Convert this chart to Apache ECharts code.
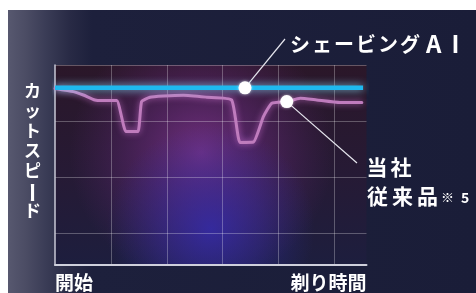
<!DOCTYPE html>
<html><head><meta charset="utf-8">
<script src="https://cdn.jsdelivr.net/npm/echarts@6/dist/echarts.min.js"></script>
<style>
html,body{margin:0;padding:0;background:#fff;}
#c{width:476px;height:293px;
background:
 linear-gradient(#fff,#fff) top left/100% 10px no-repeat,
 linear-gradient(to right,#fff 0,#fff 8px,#57586f 8px,#4b4c64 26px,#3a3c56 46px,#282a45 70px,#1d203c 92px,#1a1d38 100%);}
</style></head><body><div id="c"></div>
<script>
// time axis (0 = 開始, 100 = end of plot)
const timeX = [0, 5.9, 9.1, 12.8, 15.0, 19.8, 22.8, 26.6, 27.8, 30.5, 34.8, 41.2, 48.7, 56.7, 59.4, 63.7, 66.9, 69.6, 74.4, 78.7, 84.0, 91.5, 98.5];
// 当社従来品 cut speed (relative, 100 = top of plot)
const conventionalY = [88.3, 86.7, 85.0, 82.5, 82.2, 82.2, 66.7, 66.7, 81.7, 83.9, 84.5, 84.9, 83.9, 82.5, 61.3, 61.5, 74.2, 80.9, 81.7, 83.4, 82.5, 81.2, 81.2];
// シェービングAI cut speed
const aiX = [0, 61.0, 98.9];
const aiY = [88.6, 88.6, 88.6];
const xTickLabels = ['開始', '剃り時間'];
const yAxisLabel = ['カ', 'ッ', 'ト', 'ス', 'ピ', 'ー', 'ド'];
const aiLabel = 'シェービング';
const aiLabelLatin = ['A', 'I'];
const convLabel1 = '当社';
const convLabel2 = '従来品';
const convNote = ['※', '5'];
const aiDotIndex = 1;
const convDotIndex = 18;

const FONT = '"Noto Sans CJK JP", "Noto Sans CJK SC", sans-serif';
const GRID = {left: 55, top: 65, right: 109.5, bottom: 28};
const chart = echarts.init(document.getElementById('c'), null, {renderer: 'canvas'});

function spaced(str, style) {
  return Array.from(str).map(ch => '{' + style + '|' + ch + '}').join('');
}
const hiddenAxis = (g) => ({gridIndex: g, type: 'value', show: false, min: 0, max: 100});

const barIdx = yAxisLabel.indexOf('ー');
const verticalName = yAxisLabel.map(c => c === 'ー' ? '\u3000' : c).join('\n');

const option = {
  backgroundColor: 'transparent',
  animation: false,
  grid: [
    Object.assign({show: true, borderWidth: 0, backgroundColor: new echarts.graphic.LinearGradient(0, 0, 0, 1, [
      {offset: 0, color: '#2b1729'}, {offset: 0.55, color: '#261a35'}, {offset: 1, color: '#1d1e3e'}])}, GRID),
    Object.assign({show: true, borderWidth: 0, backgroundColor: new echarts.graphic.RadialGradient(0.47, 0.44, 0.66, [
      {offset: 0, color: 'rgba(135,55,150,0.78)'}, {offset: 0.45, color: 'rgba(115,45,135,0.45)'}, {offset: 1, color: 'rgba(100,40,120,0)'}])}, GRID),
    Object.assign({show: true, borderWidth: 0, backgroundColor: new echarts.graphic.RadialGradient(0.5, 0.82, 0.52, [
      {offset: 0, color: 'rgba(50,45,185,0.72)'}, {offset: 0.5, color: 'rgba(50,45,170,0.4)'}, {offset: 1, color: 'rgba(45,45,160,0)'}])}, GRID)
  ],
  xAxis: [
    {
      gridIndex: 0, type: 'value', min: 0, max: 100, interval: 17.95,
      axisLine: {show: true, onZero: false, lineStyle: {color: '#cfd0dc', width: 2}},
      axisTick: {show: false},
      splitLine: {show: true, showMinLine: false, showMaxLine: false, lineStyle: {color: 'rgba(255,255,255,0.28)', width: 1}},
      axisLabel: {
        show: true, showMinLabel: true, showMaxLabel: true, margin: 8,
        alignMinLabel: 'left', alignMaxLabel: 'right',
        color: '#ffffff', fontSize: 19, fontWeight: 'bold', fontFamily: FONT,
        formatter: v => v === 0 ? xTickLabels[0] : (v >= 99.99 ? xTickLabels[1] : '')
      }
    },
    hiddenAxis(1), hiddenAxis(2)
  ],
  yAxis: [
    {
      gridIndex: 0, type: 'value', min: 0, max: 100,
      axisLine: {show: true, onZero: false, lineStyle: {color: '#c8c9d6', width: 1.5}},
      axisTick: {show: false}, axisLabel: {show: false}, splitLine: {show: false}
    },
    {
      gridIndex: 0, type: 'value', inverse: true, min: 0, max: 100, interval: 28, position: 'left',
      axisLine: {show: false}, axisTick: {show: false}, axisLabel: {show: false},
      splitLine: {show: true, showMaxLine: false, lineStyle: {color: 'rgba(255,255,255,0.28)', width: 1}}
    },
    hiddenAxis(1), hiddenAxis(2)
  ],
  graphic: [
    {type: 'text', x: 32.5, y: 150.5, z: 10,
      style: {text: verticalName, fill: '#ffffff', font: 'bold 17px ' + FONT, lineHeight: 20,
        align: 'center', verticalAlign: 'middle'}},
    {type: 'text', x: 33, y: 90.5 + barIdx * 20 + 2, rotation: -Math.PI / 2, z: 10,
      style: {text: yAxisLabel[barIdx], fill: '#ffffff', font: 'bold 21px ' + FONT, align: 'center', verticalAlign: 'middle'}},
    {type: 'text', x: 289, y: 44, z: 10,
      style: {
        text: spaced(aiLabel, 'k') + '{a|' + aiLabelLatin[0] + '}{i|' + aiLabelLatin[1] + '}',
        verticalAlign: 'middle', align: 'left',
        rich: {
          k: {fontSize: 20, fontWeight: 'bold', fontFamily: FONT, fill: '#fff', padding: [0, 1, 0, 1]},
          a: {fontSize: 24, fontWeight: 'bold', fontFamily: FONT, fill: '#fff', padding: [0, 0, 0, 5]},
          i: {fontSize: 24, fontWeight: 'bold', fontFamily: FONT, fill: '#fff', padding: [0, 0, 0, 10]}
        }
      }},
    {type: 'text', x: 365, y: 167, z: 10,
      style: {
        text: spaced(convLabel1, 'k'),
        verticalAlign: 'middle', align: 'left',
        rich: {k: {fontSize: 21, fontWeight: 'bold', fontFamily: FONT, fill: '#fff', padding: [0, 1.5, 0, 1.5]}}
      }},
    {type: 'text', x: 365, y: 196, z: 10,
      style: {
        text: spaced(convLabel2, 'k') + '{s|' + convNote[0] + '}{n|' + convNote[1] + '}',
        verticalAlign: 'middle', align: 'left',
        rich: {
          k: {fontSize: 21, fontWeight: 'bold', fontFamily: FONT, fill: '#fff', padding: [0, 2, 0, 2]},
          s: {fontSize: 13, fontWeight: 'bold', fontFamily: FONT, fill: '#fff', padding: [3, 7, 0, 1]},
          n: {fontSize: 14, fontWeight: 'bold', fontFamily: FONT, fill: '#fff', padding: [3, 0, 0, 0]}
        }
      }}
  ],
  series: [
    {
      name: '当社従来品', type: 'line', xAxisIndex: 0, yAxisIndex: 0, clip: false, z: 4,
      data: timeX.map((x, i) => [x, conventionalY[i]]),
      symbol: 'none', smooth: 0.15,
      lineStyle: {color: '#bf7cbd', width: 3, cap: 'round', join: 'round',
        shadowBlur: 6, shadowColor: 'rgba(225,125,225,0.7)'},
      markPoint: {
        symbol: 'circle', symbolSize: 13, silent: true, z: 6,
        itemStyle: {color: '#ffffff', shadowBlur: 3, shadowColor: 'rgba(255,255,255,0.6)'},
        label: {show: false},
        data: [{coord: [timeX[convDotIndex], conventionalY[convDotIndex]]}]
      },
      markLine: {
        symbol: ['none', 'none'], silent: true, z: 3,
        lineStyle: {color: '#e6e6ee', width: 1.2, type: 'solid'},
        label: {show: false},
        data: [[{coord: [timeX[convDotIndex], conventionalY[convDotIndex]]}, {x: 357, y: 163}]]
      }
    },
    {
      name: 'シェービングAI', type: 'line', xAxisIndex: 0, yAxisIndex: 0, clip: false, z: 5,
      data: aiX.map((x, i) => [x, aiY[i]]),
      symbol: 'none',
      lineStyle: {color: '#1fb9ef', width: 4.5, cap: 'butt',
        shadowBlur: 9, shadowColor: 'rgba(140,225,255,0.9)'},
      markPoint: {
        symbol: 'circle', symbolSize: 13, silent: true, z: 7,
        itemStyle: {color: '#ffffff', shadowBlur: 3, shadowColor: 'rgba(255,255,255,0.6)'},
        label: {show: false},
        data: [{coord: [aiX[aiDotIndex], aiY[aiDotIndex]]}]
      },
      markLine: {
        symbol: ['none', 'none'], silent: true, z: 3,
        lineStyle: {color: '#e6e6ee', width: 1.2, type: 'solid'},
        label: {show: false},
        data: [[{coord: [aiX[aiDotIndex], aiY[aiDotIndex]]}, {x: 285, y: 39}]]
      }
    }
  ]
};
chart.setOption(option);
</script></body></html>
